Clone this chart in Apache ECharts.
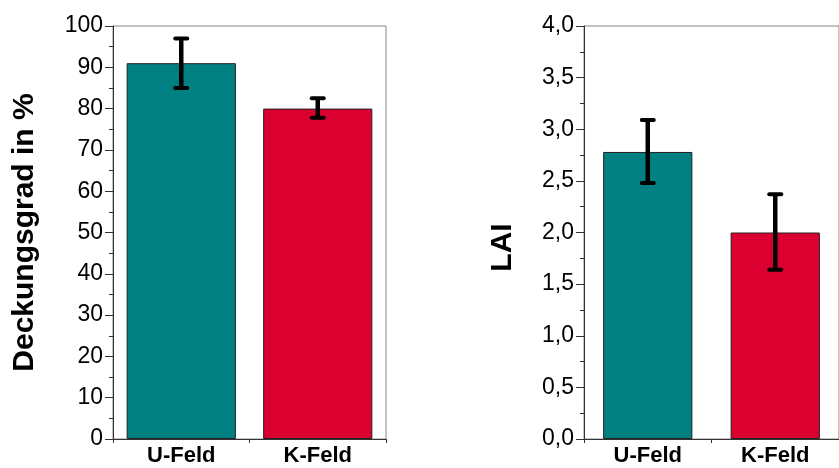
<!DOCTYPE html>
<html>
<head>
<meta charset="utf-8">
<script src="https://cdn.jsdelivr.net/npm/echarts@6/dist/echarts.min.js"></script>
<style>
html,body{margin:0;padding:0;background:#fff;}
#c{width:839px;height:468px;}
</style>
</head>
<body>
<div id="c"></div>
<script>
// ---- data ----
const categories = ['U-Feld', 'K-Feld'];
const barColors = ['#008080', '#DA002F'];
// Deckungsgrad in %
const coverMean = [91, 80];
const coverLow  = [85, 77.8];
const coverHigh = [97, 82.5];
// LAI
const laiMean = [2.78, 2.0];
const laiLow  = [2.48, 1.64];
const laiHigh = [3.09, 2.37];
// tick settings
const coverTicks = {min: 0, max: 100, interval: 10};
const laiTicks = {min: 0, max: 4, interval: 0.5};

const FONT = '"Liberation Sans", Arial, sans-serif';
const chart = echarts.init(document.getElementById('c'));

function errSeries(idx, low, high) {
  return {
    type: 'custom',
    xAxisIndex: idx, yAxisIndex: idx,
    z: 10,
    data: categories.map((c, i) => [i, low[i], high[i]]),
    renderItem: function (params, api) {
      const x = api.value(0);
      const lo = api.coord([x, api.value(1)]);
      const hi = api.coord([x, api.value(2)]);
      const hw = 6;
      const st = {stroke: '#000', lineWidth: 4, lineCap: 'round'};
      return {
        type: 'group',
        children: [
          {type: 'line', shape: {x1: lo[0], y1: lo[1], x2: hi[0], y2: hi[1]}, style: {stroke: '#000', lineWidth: 4.5}},
          {type: 'line', shape: {x1: hi[0] - hw, y1: hi[1], x2: hi[0] + hw, y2: hi[1]}, style: st},
          {type: 'line', shape: {x1: lo[0] - hw, y1: lo[1], x2: lo[0] + hw, y2: lo[1]}, style: st}
        ]
      };
    }
  };
}

function barSeries(idx, vals, width) {
  return {
    type: 'bar',
    xAxisIndex: idx, yAxisIndex: idx,
    barWidth: width,
    data: vals.map((v, i) => ({value: v, itemStyle: {color: barColors[i]}})),
    itemStyle: {borderColor: '#222', borderWidth: 1}
  };
}

function xAxis(idx) {
  return {
    type: 'category', gridIndex: idx, data: categories,
    axisLine: {lineStyle: {color: '#333', width: 1}},
    axisTick: {show: true, length: 4, alignWithLabel: false, lineStyle: {color: '#333'}},
    axisLabel: {fontFamily: FONT, fontSize: 22, fontWeight: 'bold', color: '#000', margin: 6},
    splitLine: {show: false}
  };
}

function yAxis(idx, t, name, gap, fmt, pad) {
  return {
    type: 'value', gridIndex: idx, min: t.min, max: t.max, interval: t.interval,
    name: name, nameLocation: 'middle', nameRotate: 90, nameGap: gap,
    nameTextStyle: {fontFamily: FONT, fontSize: 30, fontWeight: 'bold', color: '#000', padding: pad},
    axisLine: {show: true, lineStyle: {color: '#333', width: 1}},
    axisTick: {show: true, length: 8, lineStyle: {color: '#333'}},
    minorTick: {show: true, splitNumber: 2, length: 4, lineStyle: {color: '#333'}},
    axisLabel: {fontFamily: FONT, fontSize: 23, color: '#000', margin: 10, formatter: fmt},
    splitLine: {show: false}
  };
}

chart.setOption({
  animation: false,
  backgroundColor: '#fff',
  grid: [
    {left: 113, top: 26, width: 273, height: 413, show: true, borderColor: '#888', borderWidth: 1, containLabel: false},
    {left: 584, top: 26, width: 261, height: 413, show: true, borderColor: '#888', borderWidth: 1, containLabel: false}
  ],
  xAxis: [xAxis(0), xAxis(1)],
  yAxis: [
    yAxis(0, coverTicks, 'Deckungsgrad in %', 73, v => String(v), [0, 0, 0, 0]),
    yAxis(1, laiTicks, 'LAI', 66, v => v.toFixed(1).replace('.', ','), [0, 30, 0, 0])
  ],
  series: [
    barSeries(0, coverMean, '80%'),
    errSeries(0, coverLow, coverHigh),
    barSeries(1, laiMean, '70%'),
    errSeries(1, laiLow, laiHigh)
  ]
});
</script>
</body>
</html>
